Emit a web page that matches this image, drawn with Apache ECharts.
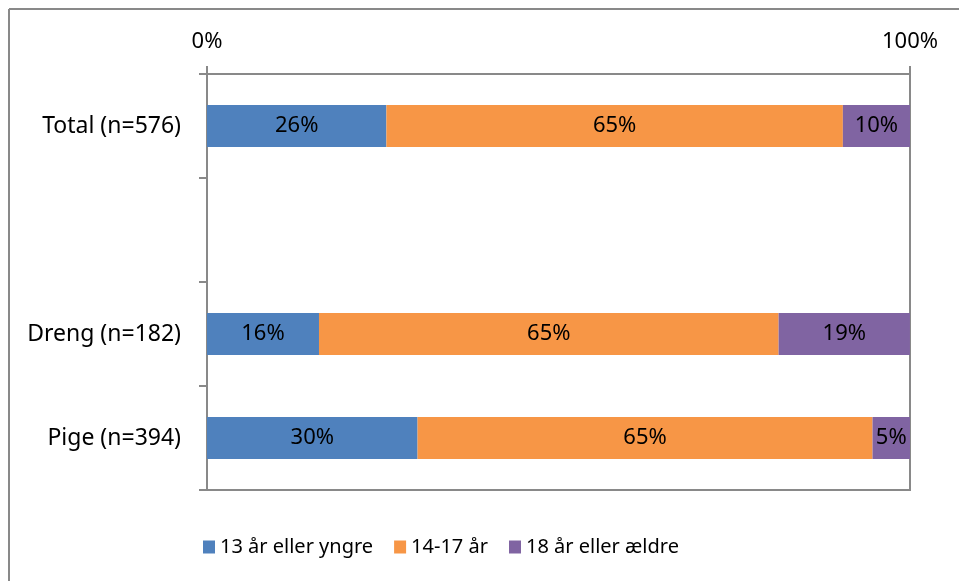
<!DOCTYPE html>
<html lang="da">
<head>
    <meta charset="UTF-8">
    <title>Alder</title>
    <style>
        html, body { margin: 0; padding: 0; background: #fff; }
        #chart { width: 959px; height: 581px; }
    </style>
</head>
<body>
<div id="chart"></div>
<script src="https://cdn.jsdelivr.net/npm/echarts@6/dist/echarts.min.js"></script>
<script>
    // kategorier (tom plads mellem Total og køn)
    var categories = ['Total (n=576)', '', 'Dreng (n=182)', 'Pige (n=394)'];
    var seriesNames = ['13 år eller yngre', '14-17 år', '18 år eller ældre'];
    var young = [25.52, null, 15.93, 29.95];
    var mid = [64.93, null, 65.38, 64.72];
    var old = [9.55, null, 18.68, 5.33];
    var colors = ['#4F81BD', '#F79646', '#8064A2'];

    var font = 'Noto Sans';
    var gray = '#898989';

    function makeSeries(name, data, color) {
        return {
            name: name,
            type: 'bar',
            stack: 'alle',
            barWidth: 42,
            data: data,
            itemStyle: { color: color },
            label: {
                show: true,
                position: 'inside',
                color: '#000',
                fontFamily: font,
                fontSize: 22,
                formatter: function (p) { return Math.round(p.value) + '%'; }
            }
        };
    }

    var chart = echarts.init(document.getElementById('chart'));
    chart.setOption({
        animation: false,
        grid: {
            left: 207, right: 49, top: 74, bottom: 91,
            show: true, borderColor: gray, borderWidth: 2
        },
        graphic: [
            { type: 'line', shape: { x1: 9, y1: 9, x2: 959, y2: 9 }, style: { stroke: gray, lineWidth: 2 } },
            { type: 'line', shape: { x1: 9, y1: 9, x2: 9, y2: 581 }, style: { stroke: gray, lineWidth: 2 } }
        ],
        legend: {
            left: 198, top: 532,
            icon: 'rect', itemWidth: 12, itemHeight: 13, itemGap: 21,
            textStyle: { fontFamily: font, fontSize: 20, color: '#000' },
            data: seriesNames
        },
        xAxis: {
            type: 'value', position: 'top',
            min: 0, max: 100, interval: 100,
            axisLine: { show: true, lineStyle: { color: gray, width: 2 } },
            axisTick: { show: true, length: 8, lineStyle: { color: gray, width: 2 } },
            splitLine: { show: false },
            axisLabel: { formatter: '{value}%', margin: 21, color: '#000', fontFamily: font, fontSize: 22 }
        },
        yAxis: {
            type: 'category', inverse: true,
            data: categories,
            axisLine: { show: true, lineStyle: { color: gray, width: 2 } },
            axisTick: { show: true, length: 8, lineStyle: { color: gray, width: 2 } },
            axisLabel: { margin: 26, color: '#000', fontFamily: font, fontSize: 23 }
        },
        series: [
            makeSeries(seriesNames[0], young, colors[0]),
            makeSeries(seriesNames[1], mid, colors[1]),
            makeSeries(seriesNames[2], old, colors[2])
        ]
    });
</script>
</body>
</html>
